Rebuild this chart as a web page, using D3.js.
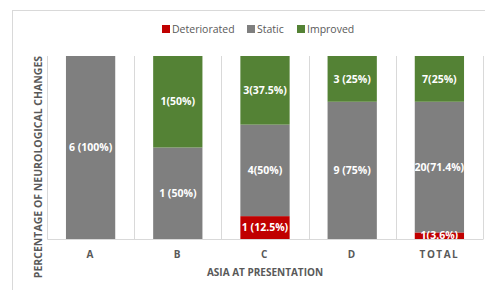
<!DOCTYPE html>
<html>
<head>
<meta charset="utf-8">
<script src="https://cdn.jsdelivr.net/npm/d3@7"></script>
<style>
  body { margin: 0; background: #fff; }
  svg { display: block; font-family: "Open Sans", "Liberation Sans", sans-serif; }
</style>
</head>
<body>
<div id="chart"></div>
<script>
// data
var categories = ["A", "B", "C", "D", "TOTAL"];
var deteriorated = [0, 0, 1, 0, 1];
var staticCounts = [6, 1, 4, 9, 20];
var improved = [0, 1, 3, 3, 7];
var deterioratedLabels = ["", "", "1 (12.5%)", "", "1(3.6%)"];
var staticLabels = ["6 (100%)", "1 (50%)", "4(50%)", "9 (75%)", "20(71.4%)"];
var improvedLabels = ["", "1(50%)", "3(37.5%)", "3 (25%)", "7(25%)"];
var seriesNames = ["Deteriorated", "Static", "Improved"];
var seriesColors = ["#c00000", "#7f7f7f", "#548235"];

var rows = categories.map(function (c, i) {
  return { cat: c, Deteriorated: deteriorated[i], Static: staticCounts[i], Improved: improved[i] };
});
var labelSets = { Deteriorated: deterioratedLabels, Static: staticLabels, Improved: improvedLabels };

var width = 485, height = 290;
var margin = { top: 56, right: 2, bottom: 51, left: 47 };
var innerW = width - margin.left - margin.right;
var innerH = height - margin.top - margin.bottom;

var svg = d3.select("#chart").append("svg")
  .attr("width", width)
  .attr("height", height);

// outer chart border (runs off the picture right and bottom)
svg.append("rect")
  .attr("x", 12.5).attr("y", 10.5)
  .attr("width", 500).attr("height", 300)
  .attr("fill", "none").attr("stroke", "#d9d9d9");

var g = svg.append("g").attr("transform", "translate(" + margin.left + "," + margin.top + ")");

var x = d3.scaleBand().domain(categories).range([0, innerW])
  .paddingInner(0.435).paddingOuter(0.2175);
var y = d3.scaleLinear().domain([0, 1]).range([innerH, 0]);
var color = d3.scaleOrdinal().domain(seriesNames).range(seriesColors);

var stack = d3.stack().keys(seriesNames).offset(d3.stackOffsetExpand);
var series = stack(rows);

// category separators
var half = (x.step() - x.bandwidth()) / 2;
var bounds = categories.map(function (c) { return x(c) - half; }).concat([x(categories[categories.length - 1]) + x.bandwidth() + half]);
g.selectAll("line.sep").data(bounds).join("line")
  .attr("class", "sep")
  .attr("x1", d => Math.round(d) + 0.5).attr("x2", d => Math.round(d) + 0.5)
  .attr("y1", 0).attr("y2", innerH)
  .attr("stroke", "#d9d9d9");

// bars
var layer = g.selectAll("g.layer").data(series).join("g")
  .attr("class", "layer")
  .attr("fill", d => color(d.key));
layer.selectAll("rect").data(d => d).join("rect")
  .attr("x", d => x(d.data.cat))
  .attr("width", x.bandwidth())
  .attr("y", d => y(d[1]))
  .attr("height", d => y(d[0]) - y(d[1]));

// clip paths so labels stay inside their bars
var defs = svg.append("defs");
categories.forEach(function (c, i) {
  defs.append("clipPath").attr("id", "clip" + i)
    .append("rect")
    .attr("x", x(c)).attr("y", 0)
    .attr("width", x.bandwidth()).attr("height", innerH);
});

// value labels
series.forEach(function (s) {
  var texts = labelSets[s.key];
  g.append("g").selectAll("text").data(s).join("text")
    .filter((d, i) => texts[i] !== "")
    .attr("clip-path", (d, i) => "url(#clip" + categories.indexOf(d.data.cat) + ")")
    .attr("x", d => x(d.data.cat) + x.bandwidth() / 2)
    .attr("y", d => (y(d[0]) + y(d[1])) / 2)
    .attr("dy", "0.35em")
    .attr("text-anchor", "middle")
    .attr("fill", "#fff")
    .attr("font-weight", "bold")
    .attr("font-size", 10.5)
    .text((d, i) => texts[categories.indexOf(d.data.cat)]);
});

// bottom axis
var xAxis = g.append("g").attr("transform", "translate(0," + innerH + ")")
  .call(d3.axisBottom(x).tickSize(0).tickPadding(12));
xAxis.select(".domain").attr("stroke", "#d9d9d9");
xAxis.selectAll("text")
  .attr("font-size", 10).attr("font-weight", "bold")
  .attr("fill", "#595959").attr("letter-spacing", "1.5px")
  .attr("font-family", "Open Sans, sans-serif");

// left axis line only
var yAxis = g.append("g").call(d3.axisLeft(y).ticks(0).tickSize(0).tickFormat(""));
yAxis.select(".domain").attr("stroke", "#d9d9d9");

// axis titles
svg.append("text")
  .attr("x", margin.left + innerW / 2).attr("y", 276)
  .attr("text-anchor", "middle")
  .attr("font-size", 10).attr("font-weight", "bold").attr("fill", "#595959")
  .text("ASIA AT PRESENTATION");
svg.append("text")
  .attr("transform", "translate(41.5,167) rotate(-90)")
  .attr("text-anchor", "middle")
  .attr("font-size", 10.5).attr("font-weight", "bold").attr("fill", "#595959")
  .text("PERCENTAGE OF NEUROLOGICAL CHANGES");

// legend
var legendX = [162, 247, 297];
var legend = svg.append("g").selectAll("g").data(seriesNames).join("g")
  .attr("transform", (d, i) => "translate(" + legendX[i] + ",29)");
legend.append("rect")
  .attr("x", 0).attr("y", -4).attr("width", 8).attr("height", 8)
  .attr("fill", d => color(d));
legend.append("text")
  .attr("x", 10).attr("dy", "0.35em")
  .attr("font-size", 10.5).attr("fill", "#595959")
  .text(d => d);
</script>
</body>
</html>
